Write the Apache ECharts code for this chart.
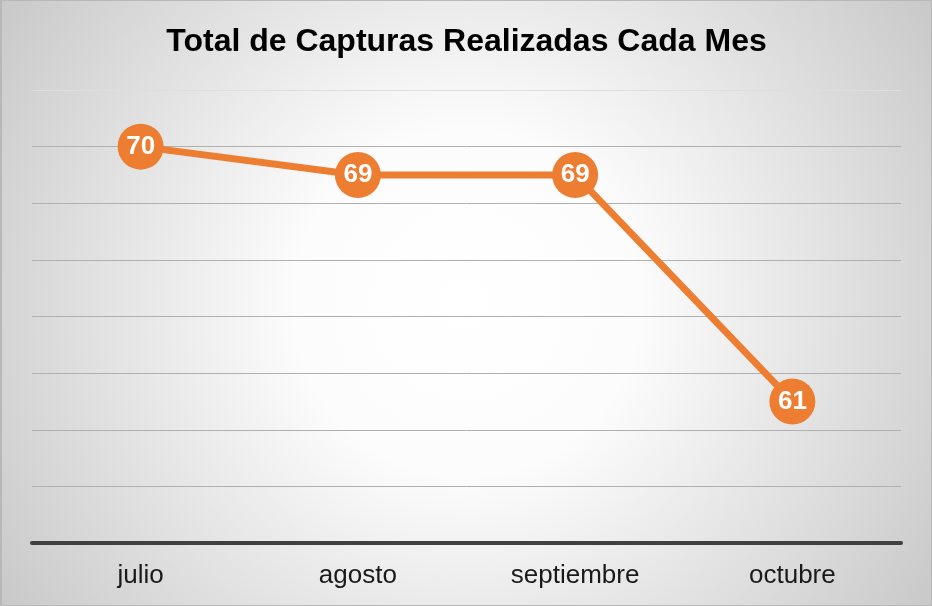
<!DOCTYPE html>
<html><head><meta charset="utf-8">
<script src="https://cdn.jsdelivr.net/npm/echarts@6/dist/echarts.min.js"></script>
<style>html,body{margin:0;padding:0;background:#fff}#c{width:932px;height:606px;box-sizing:border-box;border:1px solid #b8b8b8;border-left:2px solid #b8b8b8}</style>
</head><body><div id="c"></div>
<script>
const categories = ['julio', 'agosto', 'septiembre', 'octubre'];
const capturas = [70, 69, 69, 61];
const chart = echarts.init(document.getElementById('c'));
chart.setOption({
  backgroundColor: {type:'radial', x:0.5, y:0.5, r:0.95, colorStops:[{offset:0,color:'#ffffff'},{offset:0.3,color:'#fcfcfc'},{offset:1,color:'#c6c6c6'}]},
  title: {text:'Total de Capturas Realizadas Cada Mes', left:'center', top:20, textStyle:{fontFamily:'Liberation Sans', fontWeight:'bold', fontSize:32, color:'#000'}},
  grid: {left:30, right:30, top:89, bottom:62},
  xAxis: {type:'category', data:categories, boundaryGap:true,
    axisLine:{lineStyle:{color:'#404040', width:4}}, axisTick:{show:false},
    axisLabel:{fontFamily:'Liberation Sans', fontSize:26, color:'#1a1a1a', margin:20}},
  yAxis: {type:'value', min:56, max:72, interval:2, axisLabel:{show:false}, axisLine:{show:false}, axisTick:{show:false},
    splitLine:{lineStyle:{color:['#b0b0b0','#b0b0b0','#b0b0b0','#b0b0b0','#b0b0b0','#b0b0b0','#b0b0b0','#b0b0b0','#dedede'], width:1}}},
  series: [{type:'line', data:capturas, symbol:'circle', symbolSize:46,
    itemStyle:{color:'#ED7D31'}, lineStyle:{color:'#ED7D31', width:7},
    label:{show:true, position:'inside', color:'#fff', fontWeight:'bold', fontSize:26, fontFamily:'Liberation Sans'}}]
});
</script></body></html>
